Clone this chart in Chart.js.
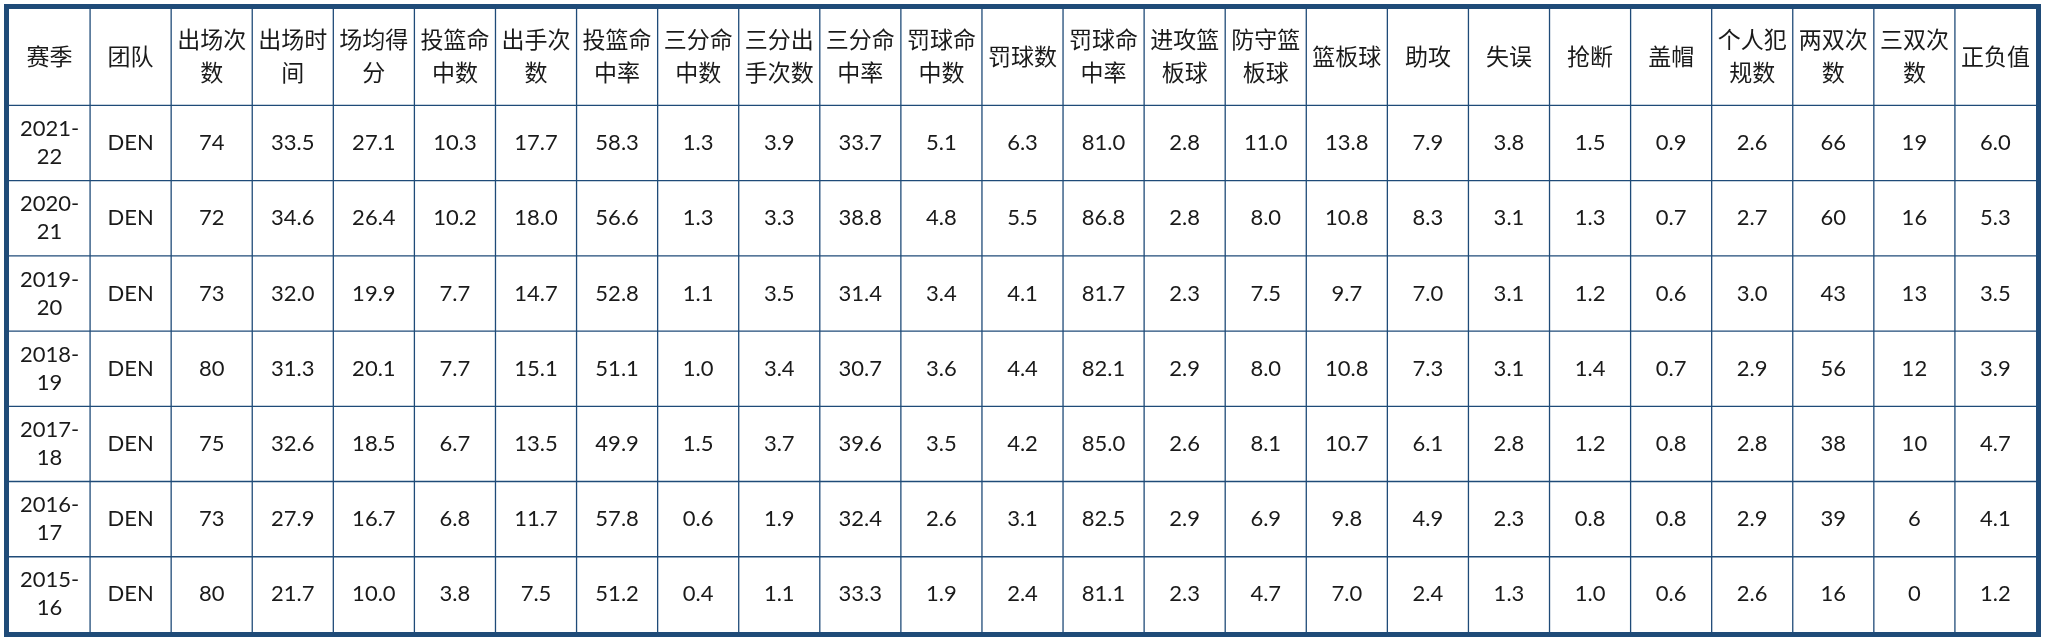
<!DOCTYPE html>
<html><head><meta charset="utf-8">
<script src="https://cdn.jsdelivr.net/npm/chart.js@4"></script>
<style>html,body{margin:0;padding:0;background:#fff}#w{width:2046px;height:642px}</style>
</head><body><div id="w"><canvas id="c"></canvas></div>
<script>
const headers=['赛季','团队','出场次数','出场时间','场均得分','投篮命中数','出手次数','投篮命中率','三分命中数','三分出手次数','三分命中率','罚球命中数','罚球数','罚球命中率','进攻篮板球','防守篮板球','篮板球','助攻','失误','抢断','盖帽','个人犯规数','两双次数','三双次数','正负值'];
const seasons=['2021-22','2020-21','2019-20','2018-19','2017-18','2016-17','2015-16'];
const teams=['DEN','DEN','DEN','DEN','DEN','DEN','DEN'];
const r2122=['74','33.5','27.1','10.3','17.7','58.3','1.3','3.9','33.7','5.1','6.3','81.0','2.8','11.0','13.8','7.9','3.8','1.5','0.9','2.6','66','19','6.0'];
const r2021=['72','34.6','26.4','10.2','18.0','56.6','1.3','3.3','38.8','4.8','5.5','86.8','2.8','8.0','10.8','8.3','3.1','1.3','0.7','2.7','60','16','5.3'];
const r1920=['73','32.0','19.9','7.7','14.7','52.8','1.1','3.5','31.4','3.4','4.1','81.7','2.3','7.5','9.7','7.0','3.1','1.2','0.6','3.0','43','13','3.5'];
const r1819=['80','31.3','20.1','7.7','15.1','51.1','1.0','3.4','30.7','3.6','4.4','82.1','2.9','8.0','10.8','7.3','3.1','1.4','0.7','2.9','56','12','3.9'];
const r1718=['75','32.6','18.5','6.7','13.5','49.9','1.5','3.7','39.6','3.5','4.2','85.0','2.6','8.1','10.7','6.1','2.8','1.2','0.8','2.8','38','10','4.7'];
const r1617=['73','27.9','16.7','6.8','11.7','57.8','0.6','1.9','32.4','2.6','3.1','82.5','2.9','6.9','9.8','4.9','2.3','0.8','0.8','2.9','39','6','4.1'];
const r1516=['80','21.7','10.0','3.8','7.5','51.2','0.4','1.1','33.3','1.9','2.4','81.1','2.3','4.7','7.0','2.4','1.3','1.0','0.6','2.6','16','0','1.2'];
const rows=[r2122,r2021,r1920,r1819,r1718,r1617,r1516];
const HEAD=1.28;
const NAVY='#1f4b78';
const FONT='"Lato","Noto Sans CJK SC",sans-serif';
function split3(s){
 if(/^[0-9]{4}-/.test(s)){const i=s.indexOf('-');return [s.slice(0,i+1),s.slice(i+1)];}
 if(/^[0-9A-Za-z.\-]+$/.test(s))return [s];
 const out=[];for(let i=0;i<s.length;i+=3)out.push(s.slice(i,i+3));return out;}
const tablePlugin={id:'table',afterDraw(ch){
 const ctx=ch.ctx,x=ch.scales.x,y=ch.scales.y,a=ch.chartArea;
 const nR=rows.length;
 ctx.save();
 ctx.strokeStyle=NAVY;ctx.lineWidth=1.3;
 for(let c=1;c<headers.length;c++){const px=x.getPixelForValue(c);ctx.beginPath();ctx.moveTo(px,a.top);ctx.lineTo(px,a.bottom);ctx.stroke();}
 for(let r=0;r<nR;r++){const py=y.getPixelForValue(HEAD+r);ctx.beginPath();ctx.moveTo(a.left,py);ctx.lineTo(a.right,py);ctx.stroke();}
 ctx.lineWidth=5;ctx.strokeRect(a.left-2.5,a.top-2.5,a.right-a.left+5,a.bottom-a.top+5);
 ctx.fillStyle='#1a1a1a';ctx.textAlign='center';ctx.textBaseline='middle';
 let lh=33;
 const drawCell=(txt,c,y0,y1)=>{const lines=split3(txt);const cx=x.getPixelForValue(c+0.5);const cy=(y.getPixelForValue(y0)+y.getPixelForValue(y1))/2;
  lines.forEach((l,i)=>ctx.fillText(l,cx,cy+(i-(lines.length-1)/2)*lh));};
 ctx.font='23px '+FONT;
 headers.forEach((h,c)=>drawCell(h,c,0,HEAD));
 ctx.font='22px '+FONT;lh=28;
 for(let r=0;r<nR;r++){const y0=HEAD+r,y1=HEAD+r+1;
  drawCell(seasons[r],0,y0,y1);drawCell(teams[r],1,y0,y1);
  rows[r].forEach((v,i)=>drawCell(v,i+2,y0,y1));}
 ctx.restore();}};
new Chart(document.getElementById('c'),{type:'scatter',data:{datasets:[{data:[]}]},
 options:{responsive:true,maintainAspectRatio:false,animation:false,
  layout:{padding:{left:9,right:10,top:9,bottom:10}},
  plugins:{legend:{display:false},tooltip:{enabled:false}},
  scales:{x:{type:'linear',min:0,max:headers.length,display:false},
          y:{type:'linear',min:0,max:HEAD+rows.length,reverse:true,display:false}}},
 plugins:[tablePlugin]});
</script></body></html>
